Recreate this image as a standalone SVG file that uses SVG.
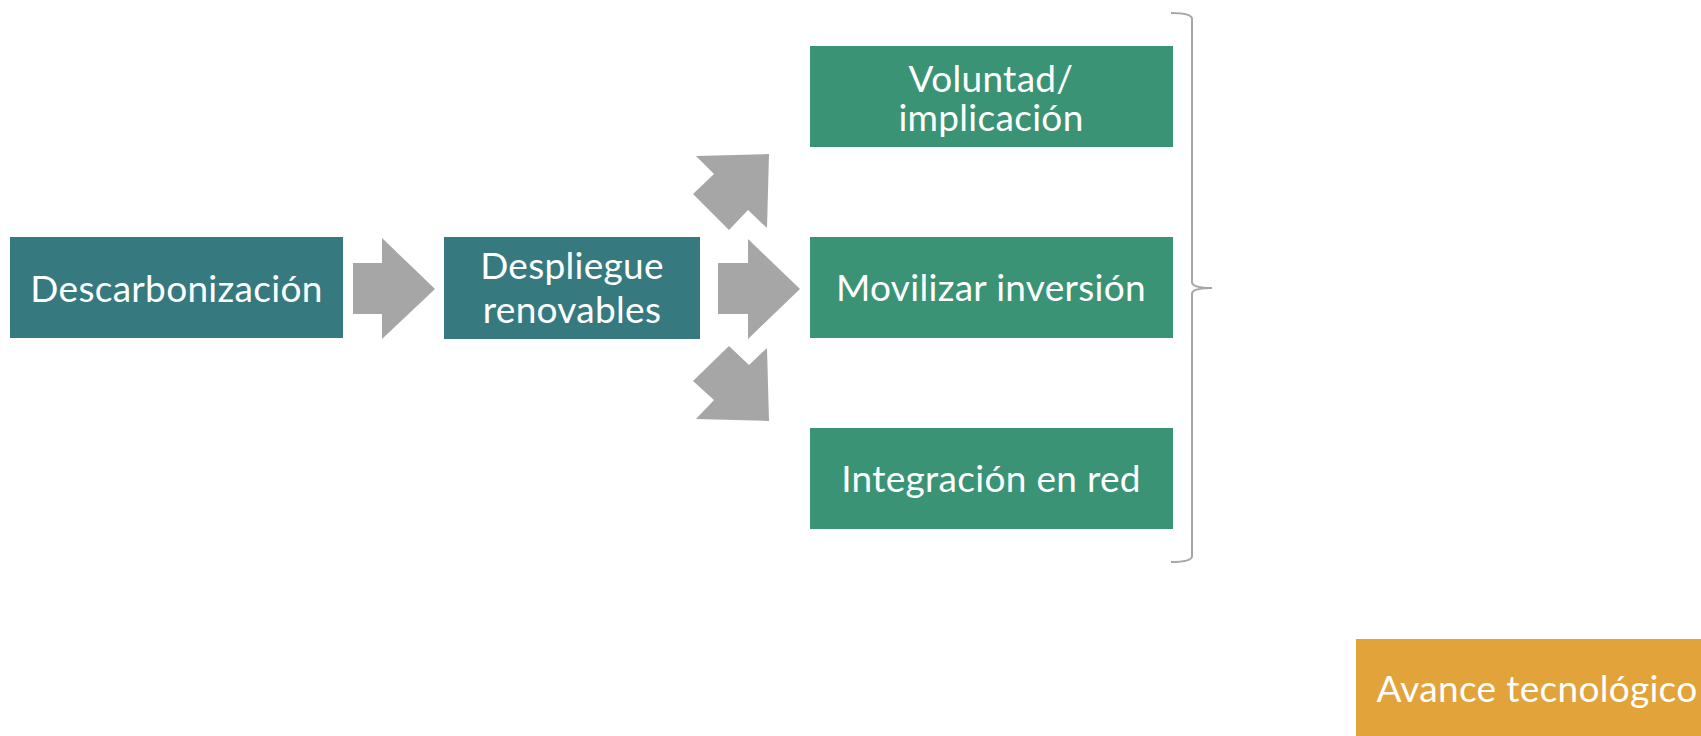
<svg xmlns="http://www.w3.org/2000/svg" width="1701" height="736" viewBox="0 0 1701 736">
<style>
.t{font-family:Lato,"Open Sans","Liberation Sans",sans-serif;font-size:37px;letter-spacing:0.3px;fill:#ffffff;text-anchor:middle}
.teal{fill:#367A80}
.green{fill:#3A9375}
.orange{fill:#E2A33A}
.arrow{fill:#A6A6A6}
.brace{fill:none;stroke:#A6A6A6;stroke-width:2}
</style>
<rect width="1701" height="736" fill="#ffffff"/>
<g id="connectors">
<polygon class="arrow" points="353,263 382,263 382,238 435,289 382,339 382,314 353,314"/>
<polygon class="arrow" points="718,263 748,263 748,239 800,289 748,339 748,314 718,314"/>
<polygon class="arrow" points="769,154 767,228 748,210 729,230 693,194 714,174 696,156"/>
<polygon class="arrow" points="729,346 749,365 767,348 769,421 696,419 714,400 693,381"/>
<path class="brace" d="M1171,13 Q1192,13 1192,19 L1192,282 Q1192,288 1212,288 Q1192,288 1192,294 L1192,556 Q1192,562 1171,562"/>
</g>
<g id="n1">
<rect class="teal" x="10" y="237" width="333" height="101"/>
<text class="t" x="176.5" y="302">Descarbonización</text>
</g>
<g id="n2">
<rect class="teal" x="444" y="237" width="256" height="102"/>
<text class="t" x="572" y="279">Despliegue</text>
<text class="t" x="572" y="323">renovables</text>
</g>
<g id="n3">
<rect class="green" x="810" y="46" width="363" height="101"/>
<text class="t" x="991" y="92">Voluntad/</text>
<text class="t" x="991" y="131">implicación</text>
</g>
<g id="n4">
<rect class="green" x="810" y="237" width="363" height="101"/>
<text class="t" x="991" y="301">Movilizar inversión</text>
</g>
<g id="n5">
<rect class="green" x="810" y="428" width="363" height="101"/>
<text class="t" x="991" y="492">Integración en red</text>
</g>
<g id="n6">
<rect class="orange" x="1356" y="639" width="345" height="97"/>
<text class="t" x="1537" y="702">Avance tecnológico</text>
</g>
</svg>
